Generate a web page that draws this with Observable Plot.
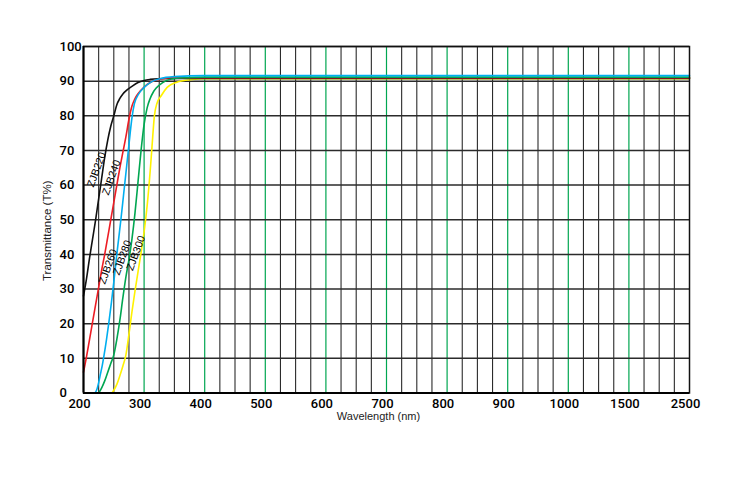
<!DOCTYPE html>
<html><head><meta charset="utf-8">
<script src="https://cdn.jsdelivr.net/npm/d3@7"></script>
<script src="https://cdn.jsdelivr.net/npm/@observablehq/plot@0.6"></script>
<style>
html,body{margin:0;padding:0;background:#fff;}
#chart{width:750px;height:478px;}
#chart g[aria-label="x-axis tick label"], #chart g[aria-label="y-axis tick label"]{font-family:Roboto,'Liberation Sans',Arial,sans-serif;font-weight:500;}
</style></head><body><div id="chart"></div>
<script>
// x axis: wavelength tick values (nonlinear spacing, one equal step per tick)
const xTickValues = [200, 300, 400, 500, 600, 700, 800, 900, 1000, 1500, 2500];
const xTickLabels = ["200", "300", "400", "500", "600", "700", "800", "900", "1000", "1500", "2500"];
const yTicks = [0, 10, 20, 30, 40, 50, 60, 70, 80, 90, 100];

const seriesNames = ["ZJB220", "ZJB240", "ZJB260", "ZJB280", "ZJB300"];

const zjb220W = [200,205,210,215,220,225,230,235,240,245,250,255,260,265,270,280,290,300,310,325,350,400,2500];
const zjb220T = [28,33,39,44.5,50,56,62,68,73,77,80,83.2,85,86.3,87.2,88.5,89.6,90.2,90.5,90.7,90.8,90.8,90.8];

const zjb240W = [200,205,210,215,220,225,230,235,240,245,250,255,260,265,270,275,280,285,290,300,310,320,330,345,400,2500];
const zjb240T = [6,10.5,15.5,20.5,25.5,30.5,35.5,40,45,50,55,60,65,69.5,74,79,82.8,85,86.4,88.3,89.6,90.3,90.7,91,91.0,91.0];

const zjb260W = [219,222,225,228,231,234,238,242,246,250,254,258,262,266,270,274,277,280,284,290,300,312,326,350,400,2500];
const zjb260T = [0,1,3,5.5,8,11,15.5,20.5,26,32,38.5,44.5,50.5,57,63.5,70,75,79.5,83.5,86,88.2,89.8,90.7,91.3,91.6,91.6];

const zjb280W = [225,230,235,240,245,250,255,260,265,270,275,280,285,290,295,300,305,310,315,320,330,345,370,400,2500];
const zjb280T = [0,1.5,3.5,6,8.5,11,15.5,21,27.5,33.5,38.5,44.5,52,61,70,77.5,82.3,85,86.8,88,89.5,90.6,91.0,91.15,91.15];

const zjb300W = [247,250,255,260,265,270,275,280,285,290,295,300,305,310,313,317,321,329,338,354,376,400,2500];
const zjb300T = [0,0.8,2.5,5,7.8,11,17,23.5,29.5,35,40.5,46.5,54,64,71,80,83.5,86,88.2,89.7,90.4,90.7,90.7];

// curve label anchors (data units: wavelength, transmittance)
const labelW = [221.5, 246.2, 240.4, 263.9, 286.3];
const labelT = [64.5, 62.2, 36.5, 39.1, 40.4];

const seriesColors = ["#111111", "#ed1c24", "#00aeef", "#00a651", "#fff200"];
const drawOrder = [4, 0, 1, 3, 2];

// piecewise mapping from wavelength to equal-step axis position
const toU = d3.scaleLinear().domain(xTickValues).range(d3.range(xTickValues.length));

const allW = [zjb220W, zjb240W, zjb260W, zjb280W, zjb300W];
const allT = [zjb220T, zjb240T, zjb260T, zjb280T, zjb300T];

const lines = drawOrder.map(k =>
  Plot.line(allW[k].map((w, i) => ({u: toU(w), t: allT[k][i]})), {
    x: "u", y: "t", stroke: seriesColors[k], strokeWidth: 1.6, curve: "monotone-x"
  })
);

const nSteps = xTickValues.length - 1;
const quarter = d3.range(0, nSteps * 4 + 1).map(i => i / 4).filter(v => v % 1 !== 0);
const majors = d3.range(1, nSteps);

const plot = Plot.plot({
  width: 750, height: 478,
  marginLeft: 83, marginRight: 61, marginTop: 46, marginBottom: 85.5,
  style: {fontFamily: "'Liberation Sans', Arial, sans-serif", fontSize: "13px", color: "#000", background: "#fff"},
  x: {type: "linear", domain: [0, nSteps]},
  y: {domain: [0, 100]},
  marks: [
    Plot.ruleX(quarter, {stroke: "#2b2b2b", strokeWidth: 1.1}),
    Plot.ruleX(majors, {stroke: "#00a651", strokeWidth: 1.2}),
    Plot.ruleY(yTicks, {stroke: "#2b2b2b", strokeWidth: 1.5}),
    ...lines,
    Plot.frame({stroke: "#111", strokeWidth: 1.5}),
    Plot.ruleX([0], {stroke: "#000", strokeWidth: 2}),
    Plot.ruleY([0], {stroke: "#000", strokeWidth: 2}),
    Plot.axisX({ticks: d3.range(0, nSteps + 1), tickFormat: i => xTickLabels[i], tickSize: 0, tickPadding: 6, dx: -4, label: null, fontSize: 13}),
    Plot.axisY({ticks: yTicks, tickSize: 0, tickPadding: 24, textAnchor: "start", label: null, fontSize: 13}),
    Plot.text(seriesNames, {x: (d, i) => toU(labelW[i]), y: (d, i) => labelT[i], text: d => d, rotate: -70, fontSize: 10.5, fill: "#000"}),
    Plot.text(["Wavelength (nm)"], {frameAnchor: "bottom", text: d => d, textAnchor: "middle", lineAnchor: "top", dy: 19, dx: -8, fontSize: 11, fill: "#222"}),
    Plot.text(["Transmittance (T%)"], {frameAnchor: "left", text: d => d, textAnchor: "middle", lineAnchor: "middle", rotate: -90, dx: -36, dy: 11, fontSize: 11.5, fill: "#222"})
  ]
});
document.getElementById("chart").appendChild(plot);
</script>
</body></html>
